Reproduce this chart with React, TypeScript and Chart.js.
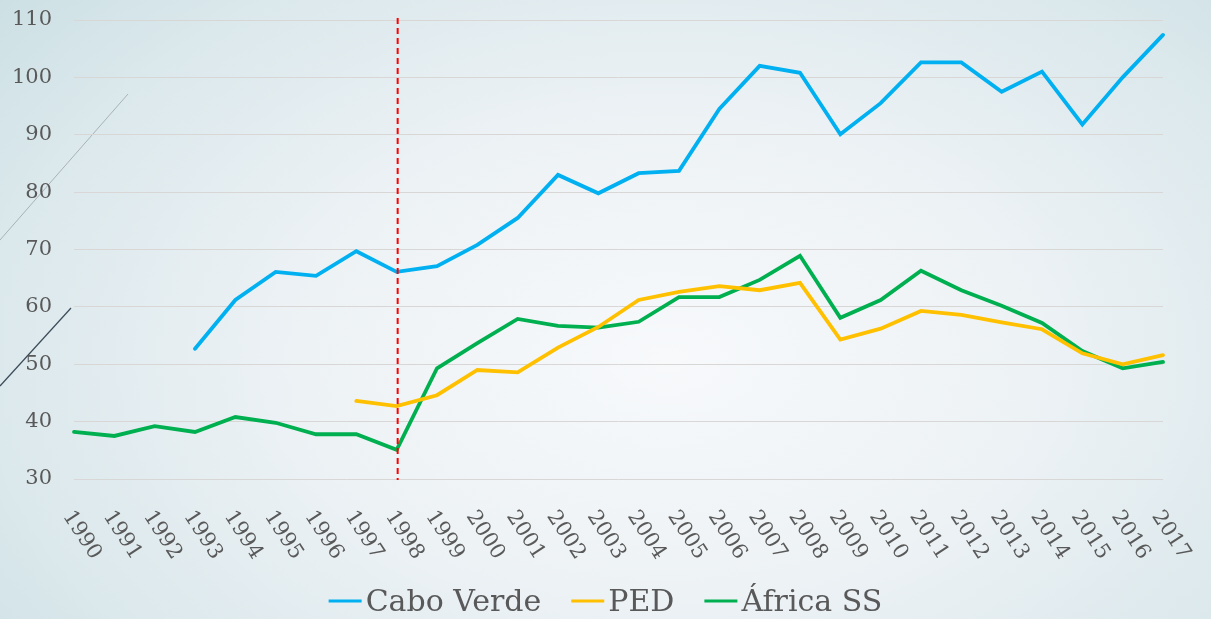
import { useEffect, useRef } from 'react';
import { Chart, registerables } from 'chart.js';

Chart.register(...registerables);

const years = [
  '1990', '1991', '1992', '1993', '1994', '1995', '1996', '1997', '1998', '1999',
  '2000', '2001', '2002', '2003', '2004', '2005', '2006', '2007', '2008', '2009',
  '2010', '2011', '2012', '2013', '2014', '2015', '2016', '2017',
];

const caboVerde = [
  null, null, null, 52.7, 61.2, 66.1, 65.4, 69.7, 66.1, 67.1,
  70.8, 75.5, 83.0, 79.8, 83.3, 83.7, 94.5, 102.0, 100.8, 90.1,
  95.5, 102.6, 102.6, 97.5, 101.0, 91.8, 100.0, 107.4,
];

const ped = [
  null, null, null, null, null, null, null, 43.6, 42.7, 44.6,
  49.0, 48.6, 52.9, 56.5, 61.2, 62.6, 63.6, 62.9, 64.2, 54.3,
  56.2, 59.3, 58.6, 57.3, 56.1, 51.9, 50.0, 51.6,
];

const africaSS = [
  38.2, 37.5, 39.2, 38.2, 40.8, 39.8, 37.8, 37.8, 35.1, 49.3,
  53.7, 57.9, 56.7, 56.4, 57.4, 61.7, 61.7, 64.7, 68.9, 58.1,
  61.2, 66.3, 62.9, 60.2, 57.2, 52.3, 49.3, 50.4,
];

const seriesNames = ['Cabo Verde', 'PED', 'África SS'];
const seriesColors = ['#00b0f0', '#ffc000', '#00b050'];

const yMin = 30;
const yMax = 110;
const yStep = 10;
const markerYear = '1998';

const FONT = '"DejaVu Serif", "Liberation Serif", serif';
const TEXT = '#595959';

export default function App() {
  const canvasRef = useRef<HTMLCanvasElement | null>(null);

  useEffect(() => {
    const canvas = canvasRef.current;
    if (!canvas) return;

    const decor = {
      id: 'decor',
      beforeDraw(chart: any) {
        const { ctx } = chart;
        ctx.save();
        ctx.lineWidth = 1;
        ctx.strokeStyle = 'rgba(150,160,166,0.75)';
        ctx.beginPath();
        ctx.moveTo(0, 240);
        ctx.lineTo(128, 94);
        ctx.stroke();
        ctx.strokeStyle = '#3b4b58';
        ctx.lineWidth = 1.2;
        ctx.beginPath();
        ctx.moveTo(0, 386);
        ctx.lineTo(71, 308);
        ctx.stroke();
        ctx.restore();
      },
    };

    const markerLine = {
      id: 'markerLine',
      afterDatasetsDraw(chart: any) {
        const { ctx, chartArea } = chart;
        const xs = chart.scales.x;
        const x = xs.getPixelForValue(years.indexOf(markerYear)) + 1;
        ctx.save();
        ctx.strokeStyle = '#ff0000';
        ctx.lineWidth = 2;
        ctx.setLineDash([6, 4]);
        ctx.beginPath();
        ctx.moveTo(x, chartArea.top - 2);
        ctx.lineTo(x, chartArea.bottom + 1);
        ctx.stroke();
        ctx.restore();
      },
    };

    const xLabels = {
      id: 'xLabels',
      afterDraw(chart: any) {
        const { ctx, chartArea } = chart;
        const xs = chart.scales.x;
        ctx.save();
        ctx.font = `21px ${FONT}`;
        ctx.fillStyle = TEXT;
        ctx.textAlign = 'left';
        ctx.textBaseline = 'top';
        years.forEach((label, i) => {
          const px = xs.getPixelForValue(i);
          ctx.save();
          ctx.translate(px + 2, chartArea.bottom + 28);
          ctx.rotate((57 * Math.PI) / 180);
          ctx.fillText(label, 0, 0);
          ctx.restore();
        });
        ctx.restore();
      },
    };

    const customLegend = {
      id: 'customLegend',
      afterDraw(chart: any) {
        const { ctx } = chart;
        ctx.save();
        ctx.font = `30px ${FONT}`;
        const markerW = 33;
        const gap = 4;
        const spacing = 30;
        const items = chart.data.datasets.map((ds: any) => ({
          text: ds.label as string,
          color: ds.borderColor as string,
          w: ctx.measureText(ds.label).width,
        }));
        const total =
          items.reduce((s: number, it: any) => s + markerW + gap + it.w, 0) +
          spacing * (items.length - 1);
        let x = (chart.width - total) / 2;
        const yMid = 601;
        const base = 611;
        items.forEach((it: any) => {
          ctx.fillStyle = it.color;
          ctx.fillRect(x, yMid - 1.5, markerW, 3);
          x += markerW + gap;
          ctx.fillStyle = TEXT;
          ctx.textAlign = 'left';
          ctx.textBaseline = 'alphabetic';
          ctx.fillText(it.text, x, base);
          x += it.w + spacing;
        });
        ctx.restore();
      },
    };

    const chart = new Chart(canvas, {
      type: 'line',
      data: {
        labels: years,
        datasets: [
          { label: seriesNames[0], data: caboVerde, borderColor: seriesColors[0], backgroundColor: seriesColors[0] },
          { label: seriesNames[1], data: ped, borderColor: seriesColors[1], backgroundColor: seriesColors[1] },
          { label: seriesNames[2], data: africaSS, borderColor: seriesColors[2], backgroundColor: seriesColors[2] },
        ],
      },
      options: {
        animation: false,
        responsive: true,
        maintainAspectRatio: false,
        layout: { autoPadding: false, padding: { left: 14, right: 48, top: 20, bottom: 140 } },
        elements: {
          line: { borderWidth: 3.8, tension: 0, borderCapStyle: 'round', borderJoinStyle: 'miter' },
          point: { radius: 0, hoverRadius: 0 },
        },
        plugins: {
          legend: { display: false },
          tooltip: { enabled: false },
        },
        scales: {
          x: {
            type: 'category',
            offset: false,
            grid: { display: false, drawTicks: false },
            border: { display: false },
            ticks: { display: false },
          },
          y: {
            min: yMin,
            max: yMax,
            grid: { color: '#d9d6d6', lineWidth: 1, drawTicks: false },
            border: { display: false },
            ticks: {
              stepSize: yStep,
              padding: 22,
              color: TEXT,
              font: { family: FONT, size: 21 },
            },
            afterFit(scale: any) {
              scale.width = 60;
              scale.paddingTop = 0;
              scale.paddingBottom = 0;
            },
          },
        },
      },
      plugins: [decor, markerLine, xLabels, customLegend],
    } as any);

    return () => chart.destroy();
  }, []);

  return (
    <div
      style={{
        position: 'fixed',
        left: 0,
        top: 0,
        width: '100vw',
        height: '100vh',
        background:
          'radial-gradient(ellipse 75% 95% at 55% 58%, #f7f9fb 0%, #edf2f5 40%, #dbe8ec 75%, #c9dee2 100%)',
      }}
    >
      <canvas ref={canvasRef} />
    </div>
  );
}
